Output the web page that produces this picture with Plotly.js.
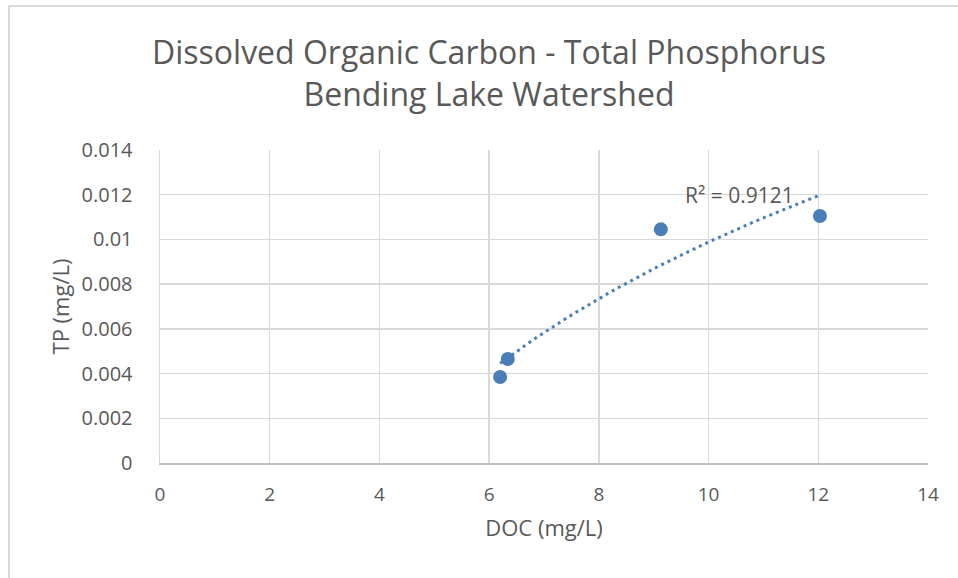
<!DOCTYPE html>
<html>
<head>
<meta charset="utf-8">
<script src="https://cdn.plot.ly/plotly-3.0.1.min.js"></script>
<style>
  html, body { margin: 0; padding: 0; background: #fff; }
  #wrap { position: absolute; left: 0; top: 0; width: 958px; height: 578px; }
  #frame { position: absolute; left: 8px; top: 5px; width: 960px; height: 590px;
           border-left: 2px solid #d9d9d9; border-top: 2px solid #d9d9d9; box-sizing: border-box; }
  #chart { position: absolute; left: 0; top: 0; width: 958px; height: 578px; }
</style>
</head>
<body>
<div id="wrap">
  <div id="chart"></div>
  <div id="frame"></div>
</div>
<script>
// Data
const docValues = [6.20, 6.34, 9.13, 12.03];          // DOC (mg/L)
const tpValues  = [0.00385, 0.00465, 0.01045, 0.01105]; // TP (mg/L)
const xTickVals = [0, 2, 4, 6, 8, 10, 12, 14];
const yTickVals = [0, 0.002, 0.004, 0.006, 0.008, 0.01, 0.012, 0.014];
const yTickText = ["0", "0.002", "0.004", "0.006", "0.008", "0.01", "0.012", "0.014"];
const titleText = 'Dissolved Organic Carbon - Total Phosphorus<br>Bending Lake Watershed';
const r2Label = "R² = 0.9121";

// Logarithmic trendline (least squares on ln x), as in the spreadsheet
const lx = docValues.map(Math.log);
const n = lx.length;
const mx = lx.reduce((a, b) => a + b, 0) / n;
const my = tpValues.reduce((a, b) => a + b, 0) / n;
let sxy = 0, sxx = 0;
for (let i = 0; i < n; i++) { sxy += (lx[i] - mx) * (tpValues[i] - my); sxx += (lx[i] - mx) ** 2; }
const slope = sxy / sxx, intercept = my - slope * mx;
const xMin = Math.min(...docValues), xMax = Math.max(...docValues);
const trendX = [], trendY = [];
for (let k = 0; k <= 60; k++) {
  const x = xMin + (xMax - xMin) * k / 60;
  trendX.push(x); trendY.push(slope * Math.log(x) + intercept);
}

const blue = '#4a7ebb';
const grey = '#595959';
const font = 'Open Sans, Lato, sans-serif';

const traces = [
  { x: trendX, y: trendY, mode: 'lines', type: 'scatter', hoverinfo: 'skip',
    line: { color: blue, width: 3, dash: '3px,4px' } },
  { x: docValues, y: tpValues, mode: 'markers', type: 'scatter',
    marker: { color: blue, size: 14 } }
];

const layout = {
  width: 958, height: 578,
  margin: { l: 160, r: 30, t: 150, b: 115 },
  paper_bgcolor: '#ffffff', plot_bgcolor: '#ffffff',
  showlegend: false,
  font: { family: font, color: grey },
  xaxis: { range: [0, 14], tickvals: xTickVals, showgrid: true, gridcolor: '#d9d9d9', gridwidth: 1.5,
           zeroline: false, showline: true, linecolor: '#bfbfbf', linewidth: 2,
           ticks: '', ticklabelstandoff: 13, tickfont: { size: 19, color: grey },
           title: { text: 'DOC (mg/L)', font: { size: 22, color: grey }, standoff: 15 } },
  yaxis: { range: [0, 0.014], tickvals: yTickVals, ticktext: yTickText, showgrid: true,
           gridcolor: '#d9d9d9', gridwidth: 1.5, zeroline: false, showline: true, linecolor: '#d9d9d9', linewidth: 1.5,
           ticks: '', ticklabelstandoff: 22, tickfont: { size: 20, color: grey },
           title: { text: 'TP (mg/L)', font: { size: 22, color: grey }, standoff: 6 } },
  annotations: [
    { x: (489 - 160) / 768, y: (463 - 72) / 313, xref: 'paper', yref: 'paper', text: titleText,
      showarrow: false, xanchor: 'center', yanchor: 'middle', align: 'center',
      font: { size: 32, color: grey, family: font } },
    { x: 11.6, y: 0.012, xref: 'x', yref: 'y', text: r2Label, showarrow: false,
      xanchor: 'right', yanchor: 'middle', font: { size: 21, color: grey, family: font } }
  ]
};

Plotly.newPlot('chart', traces, layout, { displayModeBar: false, staticPlot: true });
</script>
</body>
</html>
